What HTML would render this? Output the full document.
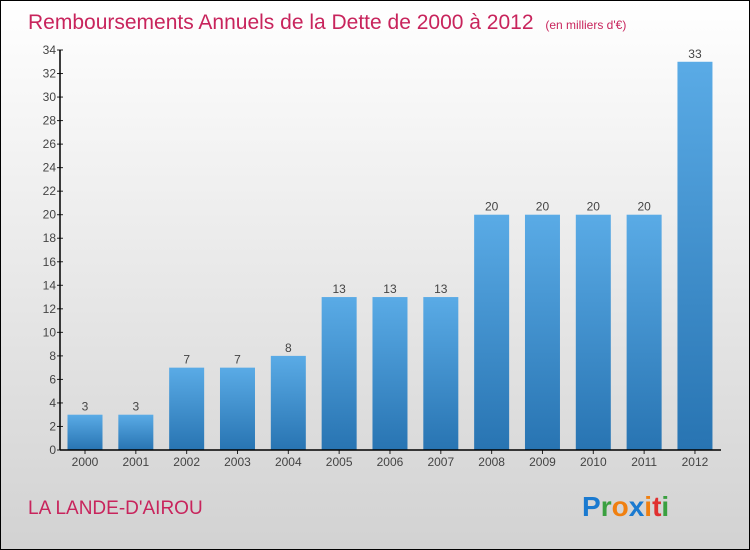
<!DOCTYPE html>
<html><head><meta charset="utf-8"><style>
body{margin:0;width:750px;height:550px;overflow:hidden}
#c{position:absolute;left:0;top:0;width:748px;height:548px;border:1px solid #000;background:linear-gradient(#fff,#d2d2d2)}
svg{position:absolute;left:0;top:0}
text{font-family:"Liberation Sans",sans-serif}
</style></head><body>
<div id="c"></div>
<svg id="s" width="750" height="550">
<defs><linearGradient id="g" x1="0" y1="0" x2="0" y2="1"><stop offset="0" stop-color="#5aabe6"/><stop offset="1" stop-color="#2874b2"/></linearGradient></defs>
<text x="28" y="29" font-size="21" fill="#c8245c">Remboursements Annuels de la Dette de 2000 à 2012 <tspan font-size="12" dx="6">(en milliers d'€)</tspan></text>
<text x="28" y="514" font-size="19" fill="#c8245c">LA LANDE-D'AIROU</text>
<g font-size="28" font-weight="bold"><text x="582" y="516"><tspan fill="#1a7ad0">P</tspan><tspan fill="#3aa040">r</tspan><tspan fill="#f08010">o</tspan><tspan fill="#1a7ad0">x</tspan><tspan fill="#f08010">i</tspan><tspan fill="#e03030">t</tspan><tspan fill="#3aa040">i</tspan></text></g>
<g id="plot"></g>
</svg>
<script>
const categories=["2000","2001","2002","2003","2004","2005","2006","2007","2008","2009","2010","2011","2012"];
const values=[3,3,7,7,8,13,13,13,20,20,20,20,33];
const yTicks=[0,2,4,6,8,10,12,14,16,18,20,22,24,26,28,30,32,34];
const NS="http://www.w3.org/2000/svg",p=document.getElementById('plot');
const y0=450,yTop=50,yMax=34,x0=60;
const y=v=>y0-(y0-yTop)*v/yMax;
const xc=i=>85+i*50.83;
function mk(t,a,par){const e=document.createElementNS(NS,t);for(const k in a)e.setAttribute(k,a[k]);(par||p).appendChild(e);return e;}
yTicks.forEach(v=>{
 const t=mk('line',{x1:x0-3,x2:x0+3,y1:y(v),y2:y(v),stroke:'#222'});
 
 
 const l=mk('text',{x:x0-4,y:y(v)+4,'text-anchor':'end','font-size':12,fill:'#444'});l.textContent=v;
 
 
});
categories.forEach((c,i)=>{
 const v=values[i];
 const b=mk('rect',{x:xc(i)-17.5,y:y(v),width:35,height:y0-y(v),fill:'url(#g)'});
 
 
 const vl=mk('text',{x:xc(i),y:y(v)-4,'text-anchor':'middle','font-size':12,fill:'#444'});vl.textContent=v;
 
 
 mk('line',{x1:xc(i),x2:xc(i),y1:y0,y2:y0+4,stroke:'#222'});
 const xl=mk('text',{x:xc(i),y:y0+16,'text-anchor':'middle','font-size':12,fill:'#444'});xl.textContent=c;
 
 
});
const ya=mk('line',{x1:x0,x2:x0,y1:yTop,y2:y0,stroke:'#000','stroke-width':1.5});


const xa=mk('line',{x1:x0,x2:721,y1:y0,y2:y0,stroke:'#000','stroke-width':1.5});


</script>
</body></html>
